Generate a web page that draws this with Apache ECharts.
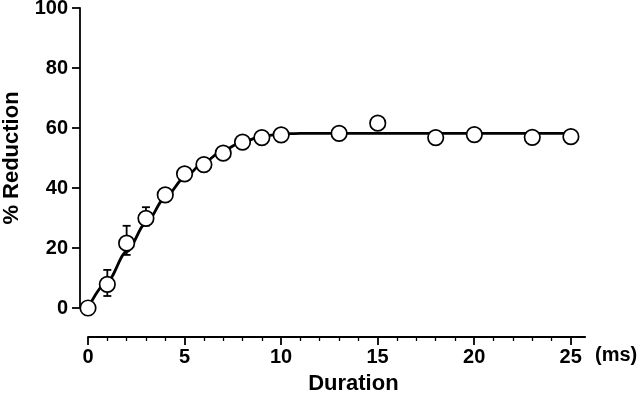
<!DOCTYPE html>
<html>
<head>
<meta charset="utf-8">
<script src="https://cdn.jsdelivr.net/npm/echarts@6/dist/echarts.min.js"></script>
<style>
html,body{margin:0;padding:0;background:#fff;}
#chart{width:640px;height:404px;}
</style>
</head>
<body>
<div id="chart"></div>
<script>
// Data
const durations = [0, 1, 2, 3, 4, 5, 6, 7, 8, 9, 10, 13, 15, 18, 20, 23, 25];
const reductions = [0, 7.9, 21.6, 29.9, 37.7, 44.7, 47.8, 51.6, 55.3, 56.8, 57.7, 58.2, 61.6, 56.8, 57.8, 56.9, 57.1];
const errHigh = [1, 12.7, 27.4, 33.6, 39.5, 46.5, 49.5, 53.3, 57, 58.5, 59.4, 60, 63.3, 58.5, 59.5, 58.6, 58.8];
const errLow  = [-1, 4.0, 17.7, 27.5, 36, 43, 46.1, 50, 53.6, 55.1, 56, 56.5, 59.9, 55.1, 56.1, 55.2, 55.4];
const fitX = [0, 1, 2, 3, 4, 5, 6, 7, 8, 9, 10, 11, 25];
const fitY = [0, 8.8, 18.8, 28.3, 36.8, 43.5, 48.6, 52.6, 55.4, 57.2, 58.0, 58.2, 58.2];
const yTicks = [0, 20, 40, 60, 80, 100];
const xTickLabels = [0, 5, 10, 15, 20, 25];

const FONT = '"Liberation Sans", Arial, Helvetica, sans-serif';
const BLACK = '#000';

const points = durations.map((d, i) => [d, reductions[i]]);
const errData = durations.map((d, i) => [d, errLow[i], errHigh[i]]);
const fitData = fitX.map((x, i) => [x, fitY[i]]);

const chart = echarts.init(document.getElementById('chart'), null, {renderer: 'canvas'});

const option = {
  animation: false,
  backgroundColor: '#fff',
  title: {
    text: '(ms)', left: 595, top: 345, padding: 0,
    textStyle: {color: BLACK, fontFamily: FONT, fontWeight: 'bold', fontSize: 20}
  },
  grid: [
    {left: 88, right: 54.8, top: 8, bottom: 96, containLabel: false, outerBoundsMode: 'none'},
    {left: 88, right: 69.3, top: 8, bottom: 96, containLabel: false, outerBoundsMode: 'none'}
  ],
  xAxis: [
    {
      type: 'value', gridIndex: 0, min: 0, max: 25.74,
      position: 'bottom', offset: 29,
      axisLine: {show: true, onZero: false, lineStyle: {color: BLACK, width: 1.8}},
      axisTick: {show: false}, axisLabel: {show: false}, splitLine: {show: false}
    },
    {
      type: 'value', gridIndex: 1, min: 0, max: 25, interval: 5,
      position: 'bottom', offset: 29,
      axisLine: {show: false, onZero: false},
      axisTick: {show: true, inside: false, length: 8, lineStyle: {color: BLACK, width: 1.8}},
      minorTick: {show: true, splitNumber: 5, length: 4, lineStyle: {color: BLACK, width: 1.3}},
      splitLine: {show: false}, minorSplitLine: {show: false},
      axisLabel: {
        show: true, margin: 10, color: BLACK, fontFamily: FONT, fontWeight: 'bold', fontSize: 20,
        formatter: v => (xTickLabels.indexOf(v) >= 0 ? String(v) : '')
      },
      name: 'Duration', nameLocation: 'middle', nameGap: 36,
      nameTextStyle: {color: BLACK, fontFamily: FONT, fontWeight: 'bold', fontSize: 22, padding: [0, 0, 0, 48]}
    }
  ],
  yAxis: [
    {
      type: 'value', gridIndex: 0, min: 0, max: 100, interval: 20,
      position: 'left', offset: 8,
      axisLine: {show: true, onZero: false, lineStyle: {color: BLACK, width: 1.8}},
      axisTick: {show: true, inside: false, length: 8, lineStyle: {color: BLACK, width: 1.8}},
      splitLine: {show: false},
      axisLabel: {
        show: true, margin: 12, color: BLACK, fontFamily: FONT, fontWeight: 'bold', fontSize: 20,
        formatter: v => (yTicks.indexOf(v) >= 0 ? String(v) : '')
      },
      name: '% Reduction', nameLocation: 'middle', nameGap: 57, nameRotate: 90,
      nameTextStyle: {color: BLACK, fontFamily: FONT, fontWeight: 'bold', fontSize: 22}
    },
    {
      type: 'value', gridIndex: 1, min: 0, max: 100, show: false
    }
  ],
  series: [
    {
      type: 'line', xAxisIndex: 0, yAxisIndex: 0, data: fitData,
      showSymbol: false, symbol: 'none', smooth: 0.3, smoothMonotone: 'x',
      lineStyle: {color: BLACK, width: 2.8}, z: 2, silent: true
    },
    {
      type: 'custom', xAxisIndex: 0, yAxisIndex: 0, data: errData, z: 3, silent: true,
      renderItem: function (params, api) {
        const x = api.value(0);
        const top = api.coord([x, api.value(2)]);
        const bot = api.coord([x, api.value(1)]);
        const hw = 4;
        const style = {stroke: BLACK, lineWidth: 1.8};
        return {
          type: 'group',
          children: [
            {type: 'line', shape: {x1: top[0], y1: top[1], x2: bot[0], y2: bot[1]}, style: style},
            {type: 'line', shape: {x1: top[0] - hw, y1: top[1], x2: top[0] + hw, y2: top[1]}, style: style},
            {type: 'line', shape: {x1: bot[0] - hw, y1: bot[1], x2: bot[0] + hw, y2: bot[1]}, style: style}
          ]
        };
      }
    },
    {
      type: 'scatter', xAxisIndex: 0, yAxisIndex: 0, data: points,
      symbol: 'circle', symbolSize: 15.5, z: 5,
      itemStyle: {color: '#fff', borderColor: BLACK, borderWidth: 1.7, opacity: 1}
    }
  ]
};

chart.setOption(option);
</script>
</body>
</html>
